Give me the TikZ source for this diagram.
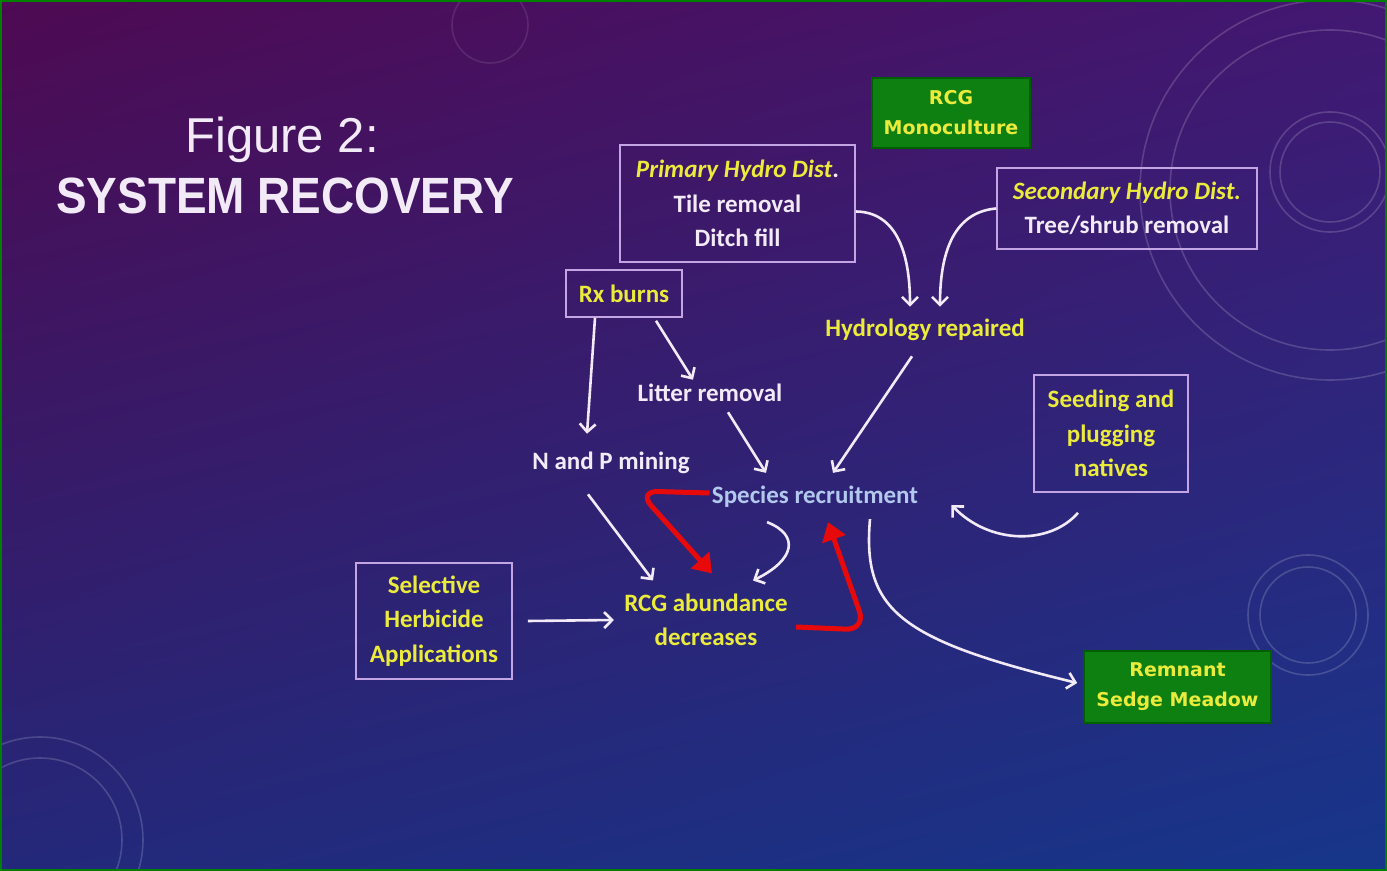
\documentclass[tikz,border=0pt]{standalone}
\usepackage{fontspec}
\setmainfont{Carlito}
\newfontfamily\titlefont{Liberation Sans}
\newfontfamily\titlenarrow[FakeStretch=0.9]{Liberation Sans}
\newfontfamily\boxfont{DejaVu Sans}
\usetikzlibrary{arrows.meta,shadings}
\definecolor{bgA}{RGB}{78,10,82}
\definecolor{bgB}{RGB}{66,24,114}
\definecolor{bgC}{RGB}{36,40,122}
\definecolor{bgD}{RGB}{22,54,138}
\definecolor{yel}{RGB}{235,235,60}
\definecolor{wht}{RGB}{242,234,246}
\definecolor{spc}{RGB}{178,200,236}
\definecolor{boxline}{RGB}{195,165,228}
\definecolor{grnfill}{RGB}{14,128,18}
\definecolor{grnline}{RGB}{0,95,0}
\definecolor{frame}{RGB}{0,128,0}
\definecolor{redarr}{RGB}{232,10,10}
\begin{document}
\begin{tikzpicture}[x=0.5pt,y=-0.5pt,
  ttl/.style={text=wht, inner sep=1pt},
  lbl/.style={font=\bfseries\fontsize{12.5}{17.25}\selectfont, align=center, inner sep=1pt},
  frm/.style={lbl, draw=boxline, line width=0.8pt, inner sep=0pt},
  grn/.style={draw=grnline, line width=0.8pt, fill=grnfill, text=yel, align=center, inner sep=0pt,
    font=\boxfont\bfseries\fontsize{9.5}{15}\selectfont},
  warr/.style={draw=wht, line width=1.3pt, -{Straight Barb[length=4pt,width=8pt]}},
  rarr/.style={draw=redarr, line width=2.5pt, rounded corners=10pt, -{Triangle[length=9pt,width=12pt]}},
  deco/.style={draw=white, opacity=0.17, line width=0.8pt}]
\useasboundingbox (0,0) rectangle (1387,871);
\shade[upper left=bgA, upper right=bgB, lower left=bgC, lower right=bgD] (0,0) rectangle (1387,871);
\begin{scope}
\clip (0,0) rectangle (1387,871);
\draw[deco] (1330,172) circle[radius=50];
\draw[deco] (1330,172) circle[radius=60];
\draw[deco] (1330,190) circle[radius=160];
\draw[deco] (1330,190) circle[radius=190];
\draw[deco] (1308,615) circle[radius=48];
\draw[deco] (1308,615) circle[radius=60];
\draw[deco] (40,840) circle[radius=82];
\draw[deco] (40,840) circle[radius=103];
\draw[deco, opacity=0.1] (490,25) circle[radius=38];
\end{scope}
\draw[color=frame, line width=1.2pt] (1,1) rectangle (1386,870);
\node (fig) at (282,140) [ttl, font=\titlefont\fontsize{24.5}{26}\selectfont]{Figure 2:};
\node (sys) at (285,196) [ttl, font=\titlenarrow\bfseries\fontsize{25.5}{28}\selectfont]{SYSTEM RECOVERY};
\node (mono) at (951,113) [grn, minimum width=79pt, minimum height=35pt]{RCG\\Monoculture};
\node (prim) at (737.5,203.5) [frm, text=wht, minimum width=117.5pt, minimum height=58.5pt]{{\itshape\color{yel}Primary Hydro Dist}.\\Tile removal\\Ditch fill};
\node (sec) at (1127,208.5) [frm, text=wht, minimum width=130pt, minimum height=40.5pt]{{\itshape\color{yel}Secondary Hydro Dist.}\\Tree/shrub removal};
\node (rx) at (624,293.5) [frm, text=yel, minimum width=58pt, minimum height=23.5pt]{Rx burns};
\node (hydro) at (925,330) [lbl, text=yel]{Hydrology repaired};
\node (litter) at (710,393) [lbl, text=wht]{Litter removal};
\node (seed) at (1111,433.5) [frm, text=yel, minimum width=77pt, minimum height=58.5pt]{Seeding and\\plugging\\natives};
\node (npm) at (611,463) [lbl, text=wht]{N and P mining};
\node (spec) at (815,497) [lbl, text=spc]{Species recruitment};
\node (herb) at (434,621) [frm, text=yel, minimum width=78pt, minimum height=58pt]{Selective\\Herbicide\\Applications};
\node (rcg) at (706,620) [lbl, text=yel]{RCG abundance\\decreases};
\node (rem) at (1177.5,687) [grn, minimum width=93.5pt, minimum height=36pt]{Remnant\\Sedge Meadow};
\draw[warr] ([yshift=-4pt]prim.east) .. controls (895,212) and (910,250) .. ([xshift=-7.5pt,yshift=5pt]hydro.north);
\draw[warr] (sec.west) .. controls (955,212) and (940,250) .. ([xshift=7.5pt,yshift=5pt]hydro.north);
\draw[warr] ([xshift=-14.5pt]rx.south) -- ([xshift=-12pt,yshift=8pt]npm.north);
\draw[warr] ([xshift=16pt,yshift=-1.5pt]rx.south) -- ([xshift=-8.5pt,yshift=1pt]litter.north);
\draw[warr] ([xshift=9pt,yshift=-4pt]litter.south) -- ([xshift=-24.5pt,yshift=5.5pt]spec.north);
\draw[warr] ([xshift=-6.5pt,yshift=-6.5pt]hydro.south) -- ([xshift=9pt,yshift=5.5pt]spec.north);
\draw[warr] ([xshift=-16.5pt,yshift=-10pt]seed.south) .. controls (1050,545) and (990,545) .. ([xshift=15.5pt,yshift=-4pt]spec.east);
\draw[warr] ([xshift=-11.5pt,yshift=-9pt]npm.south) -- ([xshift=-26.5pt,yshift=5.5pt]rcg.north);
\draw[warr] ([xshift=-24pt,yshift=-6pt]spec.south) .. controls (800,535) and (795,560) .. ([xshift=23.5pt,yshift=5.5pt]rcg.north);
\draw[warr] ([xshift=7.5pt]herb.east) -- ([xshift=-4pt]rcg.west);
\draw[warr] ([xshift=27.5pt,yshift=-4.5pt]spec.south) .. controls (862,610) and (900,640) .. ([xshift=-3pt,yshift=2pt]rem.west);
\draw[rarr] ([yshift=2pt]spec.west) -- (638,491) -- ([xshift=3pt,yshift=9pt]rcg.north);
\draw[rarr] ([xshift=3pt,yshift=-3.5pt]rcg.east) -- (866,630) -- ([xshift=6.5pt,yshift=-6pt]spec.south);
\end{tikzpicture}
\end{document}
